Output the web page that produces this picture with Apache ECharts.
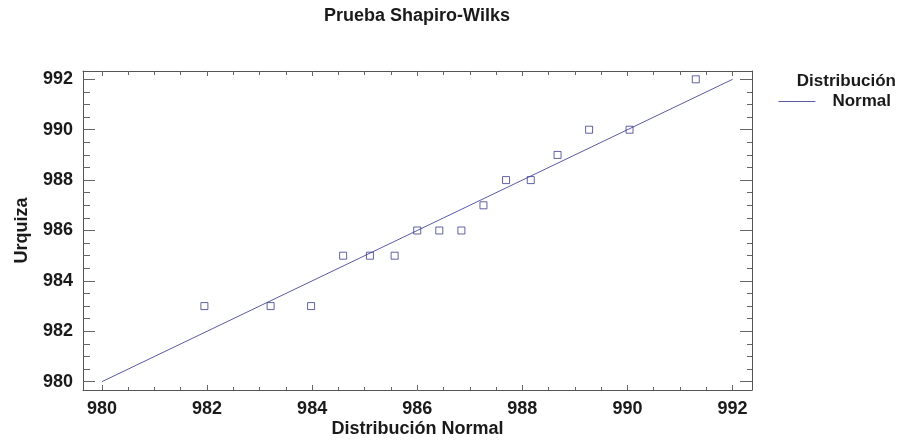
<!DOCTYPE html>
<html>
<head>
<meta charset="utf-8">
<script src="https://cdn.jsdelivr.net/npm/echarts@6/dist/echarts.min.js"></script>
<style>
html,body{margin:0;padding:0;background:#fff;}
#chart{width:904px;height:441px;}
</style>
</head>
<body>
<div id="chart"></div>
<script>
// Observed values (Urquiza) and their normal scores
const normalScores = [981.95, 983.21, 983.98, 984.59, 985.10, 985.57, 986.00, 986.42, 986.84, 987.26, 987.69, 988.16, 988.67, 989.27, 990.04, 991.30];
const urquizaValues = [983, 983, 983, 985, 985, 985, 986, 986, 986, 987, 988, 988, 989, 990, 990, 992];
// Reference line (Normal)
const lineX = [980, 992];
const lineY = [980, 992];
// Tick labels / tick positions
const majorTicks = [980, 982, 984, 986, 988, 990, 992];
const minorTicks = [980.5, 981, 981.5, 982.5, 983, 983.5, 984.5, 985, 985.5, 986.5, 987, 987.5, 988.5, 989, 989.5, 990.5, 991, 991.5];

const FONT = 'Liberation Sans, Arial, sans-serif';
const TXT = '#1a1a1a';
const AXC = '#555555';
const TKC = '#666666';
const xMin = 979.64, xMax = 992.37;
const yMin = 979.67, yMax = 992.33;

function xAx(pos, ticks, len, showLine, labels, extra) {
  return Object.assign({
    type: 'value', position: pos, min: xMin, max: xMax,
    axisLine: {show: showLine, onZero: false, lineStyle: {color: AXC, width: 1}},
    axisTick: {show: true, inside: true, length: len, customValues: ticks, lineStyle: {color: TKC}},
    axisLabel: labels ? {show: true, customValues: ticks, margin: 10, fontSize: 18, fontWeight: 'bold', fontFamily: FONT, color: TXT} : {show: false},
    splitLine: {show: false}
  }, extra || {});
}
function yAx(pos, ticks, len, showLine, labels, extra) {
  return Object.assign({
    type: 'value', position: pos, min: yMin, max: yMax,
    axisLine: {show: showLine, onZero: false, lineStyle: {color: AXC, width: 1}},
    axisTick: {show: true, inside: true, length: len, customValues: ticks, lineStyle: {color: TKC}},
    axisLabel: labels ? {show: true, customValues: ticks, margin: 10, fontSize: 18, fontWeight: 'bold', fontFamily: FONT, color: TXT} : {show: false},
    splitLine: {show: false}
  }, extra || {});
}

const chart = echarts.init(document.getElementById('chart'), null, {renderer: 'canvas'});
chart.setOption({
  backgroundColor: '#ffffff',
  animation: false,
  title: [
    {text: 'Prueba Shapiro-Wilks', left: 417, textAlign: 'center', top: 7, padding: 0,
     textStyle: {fontSize: 18, fontWeight: 'bold', fontFamily: FONT, color: TXT}},
    {text: 'Distribución', right: 8, top: 73, padding: 0,
     textStyle: {fontSize: 17, fontWeight: 'bold', fontFamily: FONT, color: TXT}}
  ],
  legend: {
    data: [{name: 'Normal', icon: 'rect'}], right: 13, top: 93, padding: 0,
    itemWidth: 37, itemHeight: 1, itemGap: 0,
    textStyle: {fontSize: 17, fontWeight: 'bold', fontFamily: FONT, color: TXT, padding: [0, 0, 0, 12]}
  },
  grid: {left: 83, right: 152, top: 71, bottom: 51, containLabel: false, outerBoundsMode: 'none'},
  xAxis: [
    xAx('bottom', majorTicks, 5, true, true, {name: 'Distribución Normal', nameLocation: 'middle', nameGap: 30,
      nameMoveOverlap: false,
      nameTextStyle: {fontSize: 18, fontWeight: 'bold', fontFamily: FONT, color: TXT}}),
    xAx('bottom', minorTicks, 3, false, false),
    xAx('top', majorTicks, 5, true, false),
    xAx('top', minorTicks, 4, false, false)
  ],
  yAxis: [
    yAx('left', majorTicks, 12, true, true, {name: 'Urquiza', nameLocation: 'middle', nameGap: 52,
      nameMoveOverlap: false,
      nameTextStyle: {fontSize: 18, fontWeight: 'bold', fontFamily: FONT, color: TXT}}),
    yAx('left', minorTicks, 7, false, false),
    yAx('right', majorTicks, 12, true, false),
    yAx('right', minorTicks, 5, false, false)
  ],
  series: [
    {
      name: 'Normal', type: 'line', xAxisIndex: 0, yAxisIndex: 0,
      data: lineX.map((x, i) => [x, lineY[i]]),
      symbol: 'none', lineStyle: {color: '#5a5aa8', width: 1}, itemStyle: {color: '#5a5aa8'}, z: 2
    },
    {
      name: 'Urquiza', type: 'scatter', xAxisIndex: 0, yAxisIndex: 0,
      data: normalScores.map((x, i) => [x, urquizaValues[i]]),
      symbol: 'rect', symbolSize: 7,
      itemStyle: {color: 'rgba(255,255,255,0)', borderColor: '#3b3b8f', borderWidth: 1}, z: 3
    }
  ]
});
</script>
</body>
</html>
